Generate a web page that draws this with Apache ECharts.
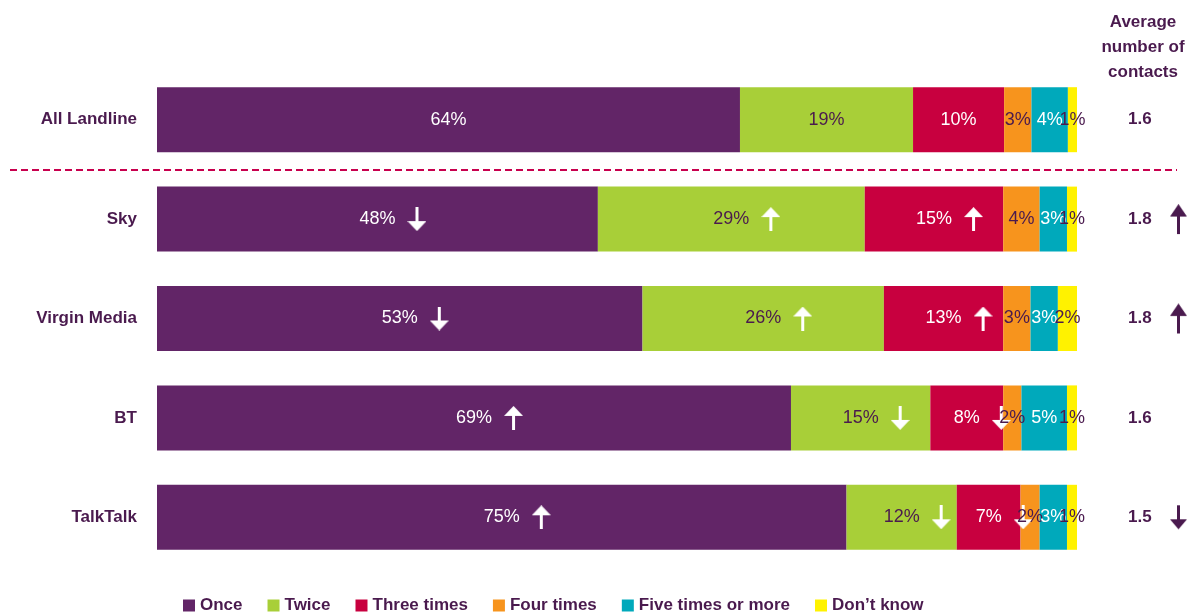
<!DOCTYPE html>
<html>
<head>
<meta charset="utf-8">
<script src="https://cdn.jsdelivr.net/npm/echarts@6/dist/echarts.min.js"></script>
<style>html,body{margin:0;padding:0;background:#fff}#c{width:1194px;height:616px}</style>
</head>
<body>
<div id="c"></div>
<script>
const categories = ['All Landline', 'Sky', 'Virgin Media', 'BT', 'TalkTalk'];
const seriesNames = ['Once', 'Twice', 'Three times', 'Four times', 'Five times or more', 'Don\u2019t know'];
const once  = [64.0, 48.4, 53.3, 69.6, 75.7];
const twice = [19.0, 29.3, 26.5, 15.3, 12.1];
const three = [10.0, 15.2, 13.1, 8.0, 7.0];
const four  = [3.0, 4.0, 3.0, 2.0, 2.1];
const five  = [4.0, 3.0, 3.0, 5.0, 3.0];
const dontKnow = [1.1, 1.1, 2.1, 1.1, 1.1];
const onceArrows  = ['', 'down', 'down', 'up', 'up'];
const twiceArrows = ['', 'up', 'up', 'down', 'down'];
const threeArrows = ['', 'up', 'up', 'down', 'down'];
const avgContacts = ['1.6', '1.8', '1.8', '1.6', '1.5'];
const avgArrows = ['', 'up', 'up', '', 'down'];

const colors = ['#622567', '#a8cf38', '#c8003f', '#f7941d', '#00a9bb', '#fff200'];
const dark = '#4a1a4e';
const labelFont = "'Liberation Sans Narrow', 'Arial Narrow', 'Liberation Sans', Arial, sans-serif";
const boldFont = "'Liberation Sans', Arial, sans-serif";

function arrowCanvas(dir, color, w, h) {
  const c = document.createElement('canvas');
  c.width = w; c.height = h;
  const g = c.getContext('2d');
  g.fillStyle = color;
  const head = 10, shaft = 3;
  g.beginPath();
  if (dir === 'up') {
    g.moveTo(0, head); g.lineTo(w / 2, 0); g.lineTo(w, head); g.closePath(); g.fill();
    g.fillRect(w / 2 - shaft / 2, head - 1, shaft, h - head + 1);
  } else {
    g.moveTo(0, h - head); g.lineTo(w / 2, h); g.lineTo(w, h - head); g.closePath(); g.fill();
    g.fillRect(w / 2 - shaft / 2, 0, shaft, h - head + 1);
  }
  return c;
}
const whiteUp = arrowCanvas('up', '#ffffff', 19, 24);
const whiteDown = arrowCanvas('down', '#ffffff', 19, 24);
const darkUp = arrowCanvas('up', dark, 17, 24);
const darkDown = arrowCanvas('down', dark, 17, 24);

function mkLabel(textColor, arrows) {
  return {
    show: true,
    position: 'inside',
    color: textColor,
    fontFamily: labelFont,
    fontSize: 18,
    formatter: function (p) {
      const t = Math.floor(p.value) + '%';
      const a = arrows ? arrows[p.dataIndex] : '';
      if (!a) return t;
      return '{pad| }' + t + '{gap| }{' + a + '| }';
    },
    rich: {
      pad: { width: 31 },
      gap: { width: 12 },
      up: { width: 19, height: 24, backgroundColor: { image: whiteUp } },
      down: { width: 19, height: 24, backgroundColor: { image: whiteDown } }
    }
  };
}

const dataSets = [once, twice, three, four, five, dontKnow];
const labelColors = ['#ffffff', dark, '#ffffff', dark, '#ffffff', dark];
const arrowSets = [onceArrows, twiceArrows, threeArrows, null, null, null];

const series = dataSets.map((d, i) => ({
  name: seriesNames[i],
  type: 'bar',
  stack: 'total',
  barWidth: 65,
  data: d,
  itemStyle: { color: colors[i] },
  label: mkLabel(labelColors[i], arrowSets[i])
}));

const chart = echarts.init(document.getElementById('c'));
chart.setOption({
  animation: false,
  grid: { left: 157, right: 117, top: 70, bottom: 49 },
  xAxis: { type: 'value', min: 0, max: 101, show: false },
  yAxis: [
    {
      type: 'category', data: categories, inverse: true,
      axisLine: { show: false }, axisTick: { show: false },
      axisLabel: { color: dark, fontFamily: boldFont, fontWeight: 'bold', fontSize: 17, margin: 20 }
    },
    {
      type: 'category', data: categories, inverse: true, position: 'right',
      axisLine: { show: false }, axisTick: { show: false },
      axisLabel: {
        margin: 51, align: 'left',
        formatter: function (v, idx) {
          const a = avgArrows[idx];
          return '{v|' + avgContacts[idx] + '}' + (a ? '{' + a + '| }' : '');
        },
        rich: {
          v: { width: 42, color: dark, fontFamily: boldFont, fontWeight: 'bold', fontSize: 17 },
          up: { width: 17, height: 24, backgroundColor: { image: darkUp }, padding: [0, 0, 6, 0] },
          down: { width: 17, height: 24, backgroundColor: { image: darkDown } }
        }
      }
    }
  ],
  legend: {
    top: 592, left: 178, itemWidth: 12, itemHeight: 12, itemGap: 25,
    icon: 'rect',
    textStyle: { color: dark, fontFamily: boldFont, fontWeight: 'bold', fontSize: 17, padding: [2, 0, 0, 0] },
    data: seriesNames
  },
  graphic: [
    {
      type: 'line', shape: { x1: 10, y1: 170, x2: 1177, y2: 170 },
      style: { stroke: '#c8004e', lineWidth: 2, lineDash: [7, 4] }
    },
    {
      type: 'text', x: 1143, y: 10,
      style: {
        text: 'Average\nnumber of\ncontacts', fill: dark, fontFamily: boldFont, fontWeight: 'bold',
        fontSize: 17, lineHeight: 25, align: 'center', verticalAlign: 'top'
      }
    }
  ],
  series: series
});
</script>
</body>
</html>
